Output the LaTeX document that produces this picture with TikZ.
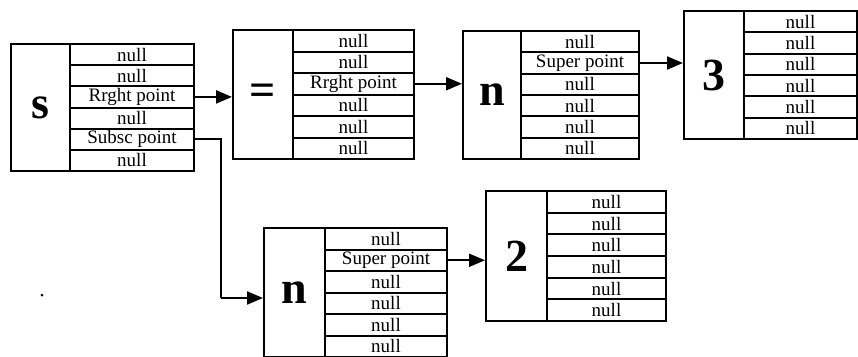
\documentclass[tikz,border=0pt]{standalone}
\usepackage{fontspec}
\setmainfont{Liberation Serif}
\usetikzlibrary{arrows.meta}
\tikzset{
  bigcell/.style={draw, line width=2.2pt, inner sep=0pt, font=\fontsize{46}{46}\selectfont\bfseries},
  field/.style={draw, line width=2pt, inner sep=0pt, font=\fontsize{19}{19}\selectfont},
  arr/.style={line width=2.2pt, -{Triangle[length=16pt, width=13pt]}},
  link/.style={line width=2.2pt}
}
\newcommand\record[8]{%
  \pgfmathsetmacro\rh{(#6-#3)/6}%
  \node[bigcell, minimum width={(#4-#2)*1pt}, minimum height={(#6-#3)*1pt}, anchor=north west] (#1) at (#2,#3) {#7};
  \foreach \t [count=\i] in {#8} {
    \node[field, minimum width={(#5-#4)*1pt}, minimum height={\rh*1pt}, anchor=north west] (#1\i) at (#4,{#3+(\i-1)*\rh}) {\t};
  }
}
\begin{document}
\begin{tikzpicture}[x=1pt,y=-1pt]
\useasboundingbox (0,0) rectangle (858,356);
\record{s}{10}{43}{69}{193}{170}{s}{null,null,Rrght point,null,Subsc point,null}
\record{eq}{232}{29}{292}{413}{158}{=}{null,null,Rrght point,null,null,null}
\record{na}{462}{30}{520}{638}{158}{n}{null,Super point,null,null,null,null}
\record{three}{683}{10}{743}{856}{138}{3}{null,null,null,null,null,null}
\record{nb}{263}{227}{324}{446}{356}{n}{null,Super point,null,null,null,null}
\record{two}{485}{190}{546}{665}{320}{2}{null,null,null,null,null,null}
\draw[arr] (s3.east) -- (s3.east -| eq.west);
\draw[arr] (eq3.east) -- (eq3.east -| na.west);
\draw[arr] (na2.east) -- (na2.east -| three.west);
\draw[arr] (nb2.east) -- (nb2.east -| two.west);
\coordinate (turn) at (221,298);
\draw[link] (s5.east) -| (turn);
\draw[arr] (turn) -- (turn -| nb.west);
\node[circle, fill, inner sep=0pt, minimum size=3pt] (dot) at (42,295) {};
\end{tikzpicture}
\end{document}
